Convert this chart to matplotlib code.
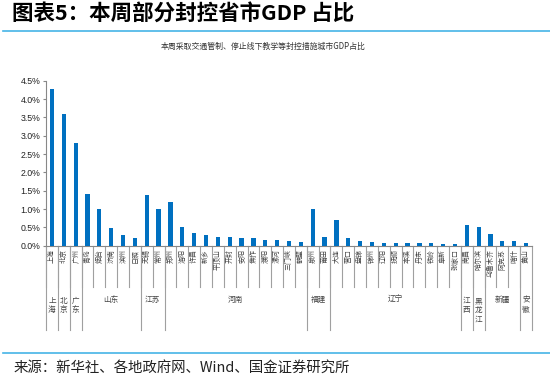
"""图表5：本周部分封控省市GDP占比"""

import matplotlib
matplotlib.use("Agg")
import matplotlib.pyplot as plt
from matplotlib.ticker import FuncFormatter
import numpy as np

plt.rcParams["font.family"] = ["Noto Sans CJK SC", "DejaVu Sans"]

# 城市、所属省份、GDP占比(%)
cities = ["上海", "北京", "广州", "青岛", "烟台", "济南", "滨州", "日照", "无锡", "常州",
          "郑州", "洛阳", "许昌", "新乡", "平顶山", "开封", "安阳", "焦作", "濮阳", "漯河",
          "三门峡", "鹤壁", "泉州", "莆田", "大连", "营口", "盘锦", "锦州", "辽阳", "抚顺",
          "本溪", "丹东", "铁岭", "阜新", "张家口", "南昌", "哈尔滨", "乌鲁木齐", "阿克苏",
          "喀什", "黄山"]
provinces = (["上海", "北京", "广东"] + ["山东"] * 5 + ["江苏"] * 2 + ["河南"] * 12
             + ["福建"] * 2 + ["辽宁"] * 11 + ["江西", "黑龙江"] + ["新疆"] * 3 + ["安徽"])
gdp_share = [4.27, 3.58, 2.80, 1.40, 1.00, 0.47, 0.28, 0.20, 1.38, 0.99,
             1.19, 0.51, 0.34, 0.29, 0.24, 0.23, 0.22, 0.20, 0.15, 0.15,
             0.14, 0.09, 1.00, 0.25, 0.69, 0.21, 0.13, 0.09, 0.07, 0.07,
             0.07, 0.065, 0.065, 0.045, 0.035, 0.56, 0.51, 0.33, 0.13,
             0.13, 0.08]
y_ticks = np.arange(0, 4.51, 0.5)

W, H = 550, 385
fig = plt.figure(figsize=(W / 100, H / 100), dpi=100)
ax = fig.add_axes([46 / W, 1 - 245.7 / H, 486 / W, 165 / H])

x = np.arange(len(cities))
ax.bar(x, gdp_share, width=0.36, color="#0070C0", zorder=3)

ax.set_xlim(-0.5, len(cities) - 0.5)
ax.set_ylim(0, 4.5)
ax.set_yticks(y_ticks)
ax.yaxis.set_major_formatter(FuncFormatter(lambda v, _: f"{v:.1f}%"))
ax.tick_params(axis="y", labelsize=6.3, length=2.5, color="#888888", pad=1.5,
               labelcolor="#222222")
for lab in ax.get_yticklabels():
    lab.set_fontfamily(["Liberation Sans", "DejaVu Sans"])
ax.set_xticks([])
for s in ["top", "right"]:
    ax.spines[s].set_visible(False)
for s in ["left", "bottom"]:
    ax.spines[s].set_color("#888888")
    ax.spines[s].set_linewidth(0.8)

trans = ax.get_xaxis_transform()
sep_kw = dict(color="#A0A0A0", lw=0.8, transform=trans, clip_on=False)

# 一级标签：城市
for i, c in enumerate(cities):
    ax.text(i, -0.02, c, rotation=90, ha="center", va="top", fontsize=5,
            color="#444444", transform=trans)
    ax.plot([i - 0.5, i - 0.5], [0, -0.25], **sep_kw)

# 二级标签：省份
starts = [0] + [i for i in range(1, len(provinces)) if provinces[i] != provinces[i - 1]]
ends = starts[1:] + [len(provinces)]
for s, e in zip(starts, ends):
    name = provinces[s]
    ax.plot([s - 0.5, s - 0.5], [0, -0.51], **sep_kw)
    mid = (s + e - 1) / 2
    if e - s == 1:
        ax.text(mid, -0.31, "\n".join(name), ha="center", va="top", fontsize=5.5,
                linespacing=1.25, color="#444444", transform=trans)
    else:
        ax.text(mid, -0.33, name, ha="center", va="center", fontsize=5.5,
                color="#444444", transform=trans)
ax.plot([len(cities) - 0.5] * 2, [0, -0.51], **sep_kw)

# 标题、副标题、来源
fig.text(12 / W, 1 - 13 / H, "图表5：本周部分封控省市GDP 占比", fontsize=15.5,
         fontweight="bold", ha="left", va="center", color="black")
fig.text(263 / W, 1 - 46 / H, "本周采取交通管制、停止线下教学等封控措施城市GDP占比",
         fontsize=5.7, ha="center", va="center", color="#333333")
fig.add_artist(plt.Line2D([3 / W, 1], [1 - 31 / H] * 2, color="#45B4E6", lw=1.2))
fig.add_artist(plt.Line2D([3 / W, 1], [1 - 353 / H] * 2, color="#45B4E6", lw=1.2))
fig.text(14 / W, 1 - 368 / H, "来源：新华社、各地政府网、Wind、国金证券研究所",
         fontsize=10.4, ha="left", va="center", color="#222222")

fig.savefig("out.png", dpi=100)
